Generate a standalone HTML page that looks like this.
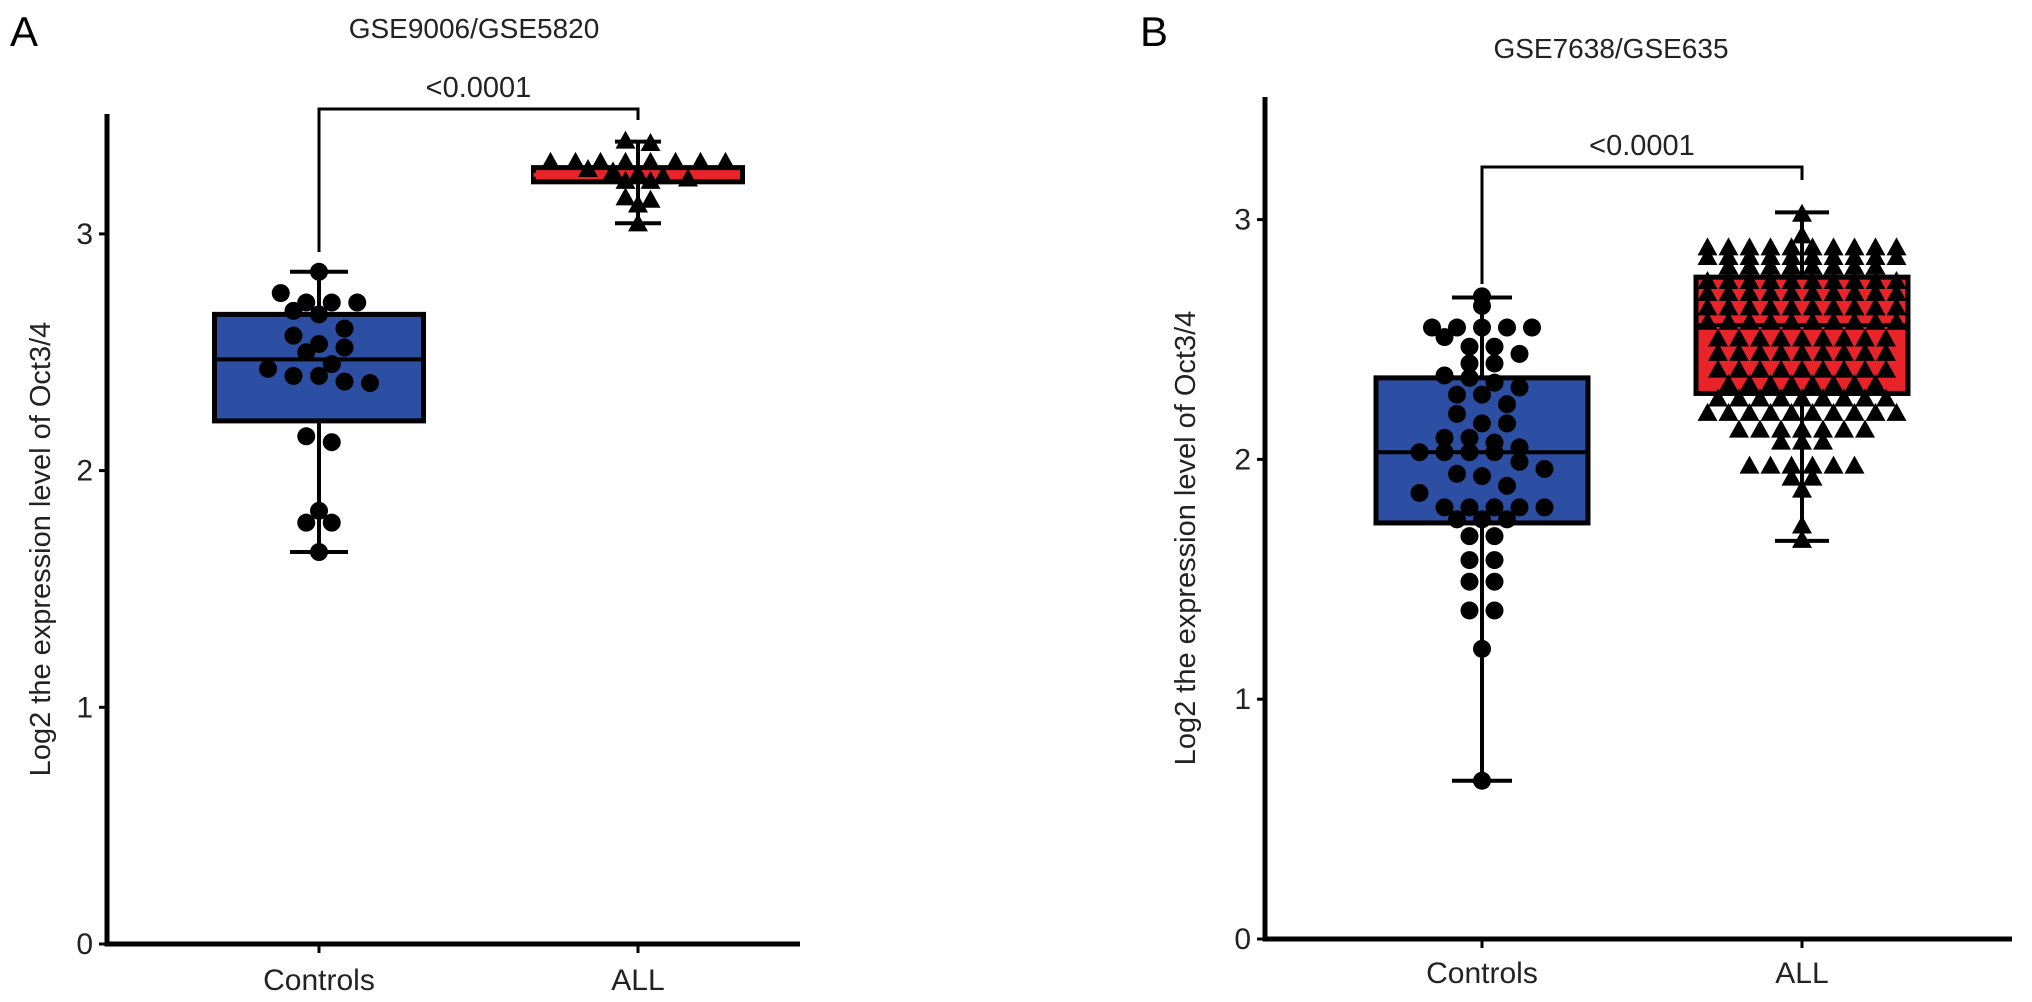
<!DOCTYPE html>
<html><head><meta charset="utf-8"><style>
html,body{margin:0;padding:0;background:#fff;}
svg{display:block;font-family:"Liberation Sans",Arial,sans-serif;}
</style></head><body>
<svg id="chart" width="2032" height="1002" viewBox="0 0 2032 1002" xmlns="http://www.w3.org/2000/svg">
<g id="root"></g>
</svg>
<script>
// ---- Panel A data ----
const categoriesA = ["Controls","ALL"];
const yTicksA = [0,1,2,3];
const controlsA = [2.84,2.75,2.71,2.71,2.71,2.675,2.66,2.60,2.57,2.535,2.52,2.50,2.45,2.43,2.40,2.40,2.376,2.37,2.145,2.12,1.83,1.78,1.78,1.656];
const boxControlsA = [1.656,2.21,2.47,2.66,2.84]; // min,q1,median,q3,max
const allA = [3.39,3.38,3.30,3.30,3.30,3.30,3.30,3.30,3.30,3.30,3.27,3.26,3.25,3.24,3.23,3.22,3.22,3.15,3.14,3.12,3.04];
const boxAllA = [3.045,3.22,3.25,3.28,3.39];
// ---- Panel B data ----
const categoriesB = ["Controls","ALL"];
const yTicksB = [0,1,2,3];
const controlsB = [2.68,2.64,2.55,2.55,2.55,2.55,2.55,2.51,2.47,2.47,2.44,2.40,2.40,2.35,2.34,2.32,2.30,2.27,2.27,2.23,2.19,2.15,2.15,2.09,2.09,2.07,2.05,2.03,2.03,2.03,2.03,1.99,1.96,1.94,1.93,1.89,1.86,1.80,1.80,1.80,1.80,1.80,1.75,1.75,1.75,1.68,1.68,1.58,1.58,1.49,1.49,1.37,1.37,1.21,0.66];
const boxControlsB = [0.66,1.735,2.03,2.34,2.675];
const allB = [3.02,2.93,
2.88,2.88,2.88,2.88,2.88,2.88,2.88,2.88,2.88,2.88,
2.84,2.84,2.84,2.84,2.84,2.84,2.84,2.84,2.84,2.84,
2.80,2.80,2.80,2.80,2.80,2.80,2.80,2.80,
2.74,2.74,2.74,2.74,2.74,2.74,2.74,2.74,2.74,2.74,
2.69,2.69,2.69,2.69,2.69,2.69,2.69,2.69,2.69,2.69,
2.63,2.63,2.63,2.63,2.63,2.63,2.63,2.63,2.63,2.63,
2.57,2.57,2.57,2.57,2.57,2.57,2.57,2.57,2.57,2.57,
2.50,2.50,2.50,2.50,2.50,2.50,2.50,2.50,2.50,
2.44,2.44,2.44,2.44,2.44,2.44,2.44,2.44,2.44,
2.37,2.37,2.37,2.37,2.37,2.37,2.37,2.37,2.37,
2.31,2.31,2.31,2.31,2.31,2.31,2.31,2.31,
2.25,2.25,2.25,2.25,2.25,2.25,2.25,2.25,2.25,
2.19,2.19,2.19,2.19,2.19,2.19,2.19,2.19,2.19,2.19,
2.12,2.12,2.12,2.12,2.12,2.12,2.12,
2.07,2.07,2.07,
1.97,1.97,1.97,1.97,1.97,1.97,
1.92,1.92,1.87,1.72,1.66];
const boxAllB = [1.66,2.275,2.56,2.76,3.03];

const NS="http://www.w3.org/2000/svg";
const root=document.getElementById('root');
function el(tag,attrs,parent){const e=document.createElementNS(NS,tag);for(const k in attrs)e.setAttribute(k,attrs[k]);(parent||root).appendChild(e);return e;}

function panel(cfg){
  const g=el('g',{});
  
  
  const y=v=>cfg.y0-v*cfg.unit;
  const L=el('text',{x:cfg.letterX,y:cfg.letterY,'font-size':42,fill:'#000'},g);L.textContent=cfg.letter;
  
  
  const T=el('text',{x:cfg.titleX,y:cfg.titleY,'font-size':28,'text-anchor':'middle',fill:'#222'},g);T.textContent=cfg.title;
  
  
  const ya=el('line',{x1:cfg.ax,y1:cfg.axTop,x2:cfg.ax,y2:y(0)+2.5,stroke:'#000','stroke-width':5},g);
  
  
  const xa=el('line',{x1:cfg.ax-2.5,y1:y(0),x2:cfg.axRight,y2:y(0),stroke:'#000','stroke-width':5},g);
  
  
  cfg.ticks.forEach(t=>{
    el('line',{x1:cfg.ax-8,y1:y(t),x2:cfg.ax,y2:y(t),stroke:'#000','stroke-width':3},g);
    const tl=el('text',{x:cfg.ax-14,y:y(t)+10,'font-size':30,'text-anchor':'end',fill:'#222'},g);tl.textContent=t;
    
    
  });
  const yt=el('text',{transform:`translate(${cfg.ytX},${(cfg.axTop+y(0))/2+20}) rotate(-90)`,'font-size':29,'text-anchor':'middle',fill:'#222'},g);
  yt.textContent='Log2 the expression level of Oct3/4';
  
  
  cfg.cats.forEach((c,i)=>{
    const cx=cfg.cx[i];
    el('line',{x1:cx,y1:y(0),x2:cx,y2:y(0)+9,stroke:'#000','stroke-width':3},g);
    const xl=el('text',{x:cx,y:cfg.xlabY,'font-size':30,'text-anchor':'middle',fill:'#222'},g);xl.textContent=c;
    
    
  });
  cfg.groups.forEach((grp,i)=>{
    const cx=cfg.cx[i], b=grp.box, hw=cfg.boxW/2;
    const bg=el('g',{},g);
    
    
    el('line',{x1:cx,y1:y(b[0]),x2:cx,y2:y(b[4]),stroke:'#000','stroke-width':4},bg);
    el('line',{x1:cx-grp.cap,y1:y(b[0]),x2:cx+grp.cap,y2:y(b[0]),stroke:'#000','stroke-width':4},bg);
    el('line',{x1:cx-grp.cap,y1:y(b[4]),x2:cx+grp.cap,y2:y(b[4]),stroke:'#000','stroke-width':4},bg);
    el('rect',{x:cx-hw,y:y(b[3]),width:cfg.boxW,height:y(b[1])-y(b[3]),fill:grp.fill,stroke:'#000','stroke-width':5},bg);
    el('line',{x1:cx-hw,y1:y(b[2]),x2:cx+hw,y2:y(b[2]),stroke:grp.medColor,'stroke-width':4,'stroke-dasharray':grp.dash||'none'},bg);
    const bins={};
    grp.vals.forEach(v=>{const k=Math.round(v/grp.binH);(bins[k]=bins[k]||[]).push(v);});
    Object.keys(bins).forEach(k=>{
      const arr=bins[k], n=arr.length;
      arr.forEach((v,j)=>{
        const px=cx+(j-(n-1)/2)*grp.sp, py=y(v);
        let m;
        if(grp.shape==='dot'){m=el('circle',{cx:px,cy:py,r:9,fill:'#000'},bg);}
        else{m=el('polygon',{points:`${px},${py-11} ${px-10},${py+7} ${px+10},${py+7}`,fill:'#000'},bg);}
        
        
      });
    });
  });
  const br=el('path',{d:`M${cfg.cx[0]},${cfg.brL} V${cfg.brY} H${cfg.cx[1]} V${cfg.brR}`,fill:'none',stroke:'#000','stroke-width':3},g);
  
  
  const pt=el('text',{x:(cfg.cx[0]+cfg.cx[1])/2,y:cfg.brY-12,'font-size':29,'text-anchor':'middle',fill:'#222'},g);
  pt.textContent='<0.0001';
  
  
}

panel({id:'panel-a',letter:'A',letterX:10,letterY:46,title:'GSE9006/GSE5820',titleX:474,titleY:38,
  ax:107,axTop:114,axRight:800,y0:944,unit:236.7,ticks:yTicksA,ytX:50,xlabY:990,
  cats:categoriesA,cx:[319,638],boxW:209,brY:109,brL:252,brR:120,
  groups:[
    {vals:controlsA,box:boxControlsA,fill:'#2C4FA3',medColor:'#000',cap:29,shape:'dot',binH:0.08,sp:25.5},
    {vals:allA,box:boxAllA,fill:'#E8242A',medColor:'#E8242A',dash:'8 6',cap:23,shape:'tri',binH:0.05,sp:25}
  ]});
panel({id:'panel-b',letter:'B',letterX:1140,letterY:46,title:'GSE7638/GSE635',titleX:1611,titleY:58,
  ax:1265,axTop:97,axRight:2012,y0:939,unit:239.8,ticks:yTicksB,ytX:1195,xlabY:983,
  cats:categoriesB,cx:[1482,1802],boxW:212,brY:167,brL:284,brR:180,
  groups:[
    {vals:controlsB,box:boxControlsB,fill:'#2C4FA3',medColor:'#000',cap:30,shape:'dot',binH:0.08,sp:25},
    {vals:allB,box:boxAllB,fill:'#E8242A',medColor:'#000',cap:27,shape:'tri',binH:0.03,sp:21}
  ]});
</script>
</body></html>
